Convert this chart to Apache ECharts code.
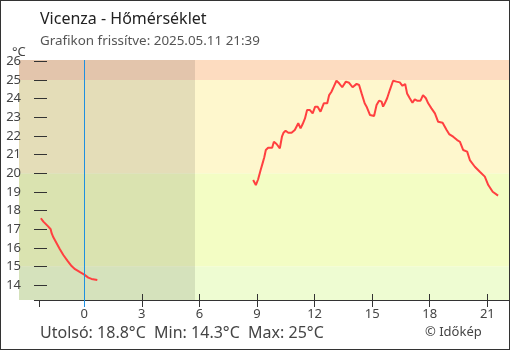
<!DOCTYPE html>
<html>
<head>
<meta charset="utf-8">
<script src="https://cdn.jsdelivr.net/npm/echarts@6/dist/echarts.min.js"></script>
<style>
html,body{margin:0;padding:0;background:#fff;}
#wrap{position:relative;width:510px;height:350px;}
#chart{position:absolute;left:0;top:0;width:510px;height:350px;}
#frame{position:absolute;left:0;top:0;width:510px;height:350px;box-sizing:border-box;border:1px solid #333;pointer-events:none;}
</style>
</head>
<body>
<div id="wrap"><div id="chart"></div><div id="frame"></div></div>
<script>
// ---- data ----
const titleText = 'Vicenza - Hőmérséklet';
const subtitleText = 'Grafikon frissítve: 2025.05.11 21:39';
const statsText = 'Utolsó: 18.8°C  Min: 14.3°C  Max: 25°C';
const creditText = '© Időkép';
const unitText = '°C';

// hours relative to midnight — segment 1
const hours1 = [-2.26,-2.13,-1.87,-1.75,-1.70,-1.61,-1.44,-1.27,-1.09,-0.88,-0.66,-0.48,-0.22,0.00,0.21,0.38,0.68];
const temps1 = [17.59,17.41,17.14,17.00,16.79,16.57,16.25,15.93,15.62,15.32,15.03,14.86,14.70,14.57,14.41,14.34,14.28];
// segment 2
const hours2 = [8.80,8.94,9.06,9.19,9.29,9.38,9.46,9.58,9.79,9.88,10.02,10.19,10.30,10.38,10.49,10.63,10.80,10.97,11.15,11.27,11.38,11.50,11.61,11.76,11.90,12.03,12.16,12.31,12.48,12.66,12.76,12.88,13.00,13.14,13.28,13.44,13.63,13.80,13.98,14.19,14.32,14.45,14.61,14.71,14.89,15.10,15.23,15.36,15.49,15.57,15.66,15.78,15.92,16.09,16.27,16.44,16.58,16.72,16.82,16.96,17.10,17.22,17.34,17.52,17.65,17.80,17.92,18.09,18.27,18.44,18.67,18.88,19.01,19.22,19.43,19.57,19.74,19.95,20.09,20.35,20.61,20.87,21.05,21.28,21.56];
const temps2 = [19.64,19.37,19.68,20.18,20.53,20.86,21.25,21.37,21.37,21.69,21.57,21.34,21.96,22.17,22.28,22.17,22.17,22.32,22.68,22.41,22.64,22.94,23.39,23.39,23.21,23.57,23.57,23.30,23.75,23.75,24.19,24.37,24.64,24.96,24.82,24.61,24.91,24.85,24.61,24.79,24.73,24.28,23.75,23.57,23.12,23.07,23.66,23.89,23.84,23.57,23.75,24.02,24.46,24.96,24.91,24.87,24.69,24.78,24.28,24.02,23.78,23.96,23.89,23.89,24.19,24.02,23.75,23.48,23.21,22.76,22.71,22.32,22.10,21.96,21.78,21.69,21.25,21.16,20.71,20.35,20.08,19.82,19.37,19.01,18.80];

const xTickLabels = [0,3,6,9,12,15,18,21];
const yTickLabels = [14,15,16,17,18,19,20,21,22,23,24,25,26];
const bandLimits = [15,20,25];
const sunrise = 5.77;
const windowStart = -2.33;
const nowMarker = 0;

// ---- axis extents ----
const xMin = -3.40, xMax = 22.13;
const yMin = 13.21, yMax = 26.07;
const axisLineStart = -2.62;

const lineData = [];
hours1.forEach((h,i)=>lineData.push([h,temps1[i]]));
lineData.push([4, null]);
hours2.forEach((h,i)=>lineData.push([h,temps2[i]]));

const grayTicks = [windowStart].concat(xTickLabels.filter(v => v !== nowMarker));

const font = '"Noto Sans", sans-serif';
const chart = echarts.init(document.getElementById('chart'), null, {renderer:'canvas'});
chart.setOption({
  animation: false,
  textStyle: {fontFamily: font},
  title: [
    {text: titleText, left: 40, top: 11, padding: 0, textStyle:{fontSize:16, fontWeight:'normal', color:'#222', fontFamily:font}},
    {text: subtitleText, left: 40, top: 35, padding: 0, textStyle:{fontSize:13.4, fontWeight:'normal', color:'#555', fontFamily:font}},
    {text: unitText, left: 12, top: 46, padding: 0, textStyle:{fontSize:13, fontWeight:'normal', color:'#444', fontFamily:font}},
    {text: statsText, left: 40, top: 325, padding: 0, textStyle:{fontSize:16, fontWeight:'normal', color:'#444', fontFamily:font}},
    {text: creditText, left: 425, top: 326, padding: 0, textStyle:{fontSize:13, fontWeight:'normal', color:'#444', fontFamily:font}}
  ],
  grid: {left: 19, right: 1, top: 60, bottom: 50},
  xAxis: [{
    type: 'value', min: xMin, max: xMax, z: 10,
    axisLine: {show: false, onZero: false},
    splitLine: {show: false},
    axisTick: {show: true, inside: false, length: 7, lineStyle:{color:'#333'}, customValues: grayTicks},
    axisLabel: {color:'#444', fontSize:13, margin: 8, fontFamily: font, customValues: xTickLabels}
  },{
    type: 'value', min: xMin, max: xMax, position: 'bottom', z: 10,
    axisLine: {show: false, onZero: false},
    splitLine: {show: false},
    axisTick: {show: true, inside: true, length: 6, lineStyle:{color:'#333'}, customValues: xTickLabels.filter(v => v !== nowMarker)},
    axisLabel: {show: false}
  },{
    type: 'value', min: xMin, max: xMax, position: 'bottom', z: 10,
    axisLine: {show: false, onZero: false},
    splitLine: {show: false},
    axisTick: {show: true, inside: false, length: 7, lineStyle:{color:'#1E90E0'}, customValues: [nowMarker]},
    axisLabel: {show: false}
  }],
  yAxis: {
    type: 'value', min: yMin, max: yMax, position: 'left', offset: -28, z: 10,
    axisLine: {show: false, onZero: false},
    splitLine: {show: false},
    axisTick: {show: true, inside: false, length: 13, lineStyle:{color:'#333', width:1}, customValues: yTickLabels},
    axisLabel: {color:'#444', fontSize:13, margin: 26, fontFamily: font, customValues: yTickLabels}
  },
  series: [
    {
      type: 'line', data: [], z: 1, silent: true,
      markArea: {
        silent: true,
        label: {show: false},
        data: [
          [{yAxis: yMin, itemStyle:{color:'#EEFCD2'}}, {yAxis: bandLimits[0]}],
          [{yAxis: bandLimits[0], itemStyle:{color:'#F3FDC4'}}, {yAxis: bandLimits[1]}],
          [{yAxis: bandLimits[1], itemStyle:{color:'#FEF7CD'}}, {yAxis: bandLimits[2]}],
          [{yAxis: bandLimits[2], itemStyle:{color:'#FDDCC0'}}, {yAxis: yMax}]
        ]
      }
    },
    {
      type: 'line', data: [], z: 2, silent: true,
      markArea: {
        silent: true,
        label: {show: false},
        itemStyle: {color: 'rgba(0,0,0,0.10)'},
        data: [[{xAxis: xMin}, {xAxis: sunrise}]]
      },
      markLine: {
        silent: true, symbol: 'none', label: {show: false},
        data: [
          [{coord: [axisLineStart, yMin], lineStyle:{color:'#333', width:1, type:'solid'}}, {coord: [xMax, yMin]}],
          {xAxis: nowMarker, lineStyle:{color:'#1E90E0', width:1, type:'solid'}}
        ]
      }
    },
    {
      type: 'line', data: lineData, z: 3,
      showSymbol: false, connectNulls: false,
      lineStyle: {color:'#FF4040', width: 2},
      itemStyle: {color:'#FF4040'}
    }
  ]
});
</script>
</body>
</html>
